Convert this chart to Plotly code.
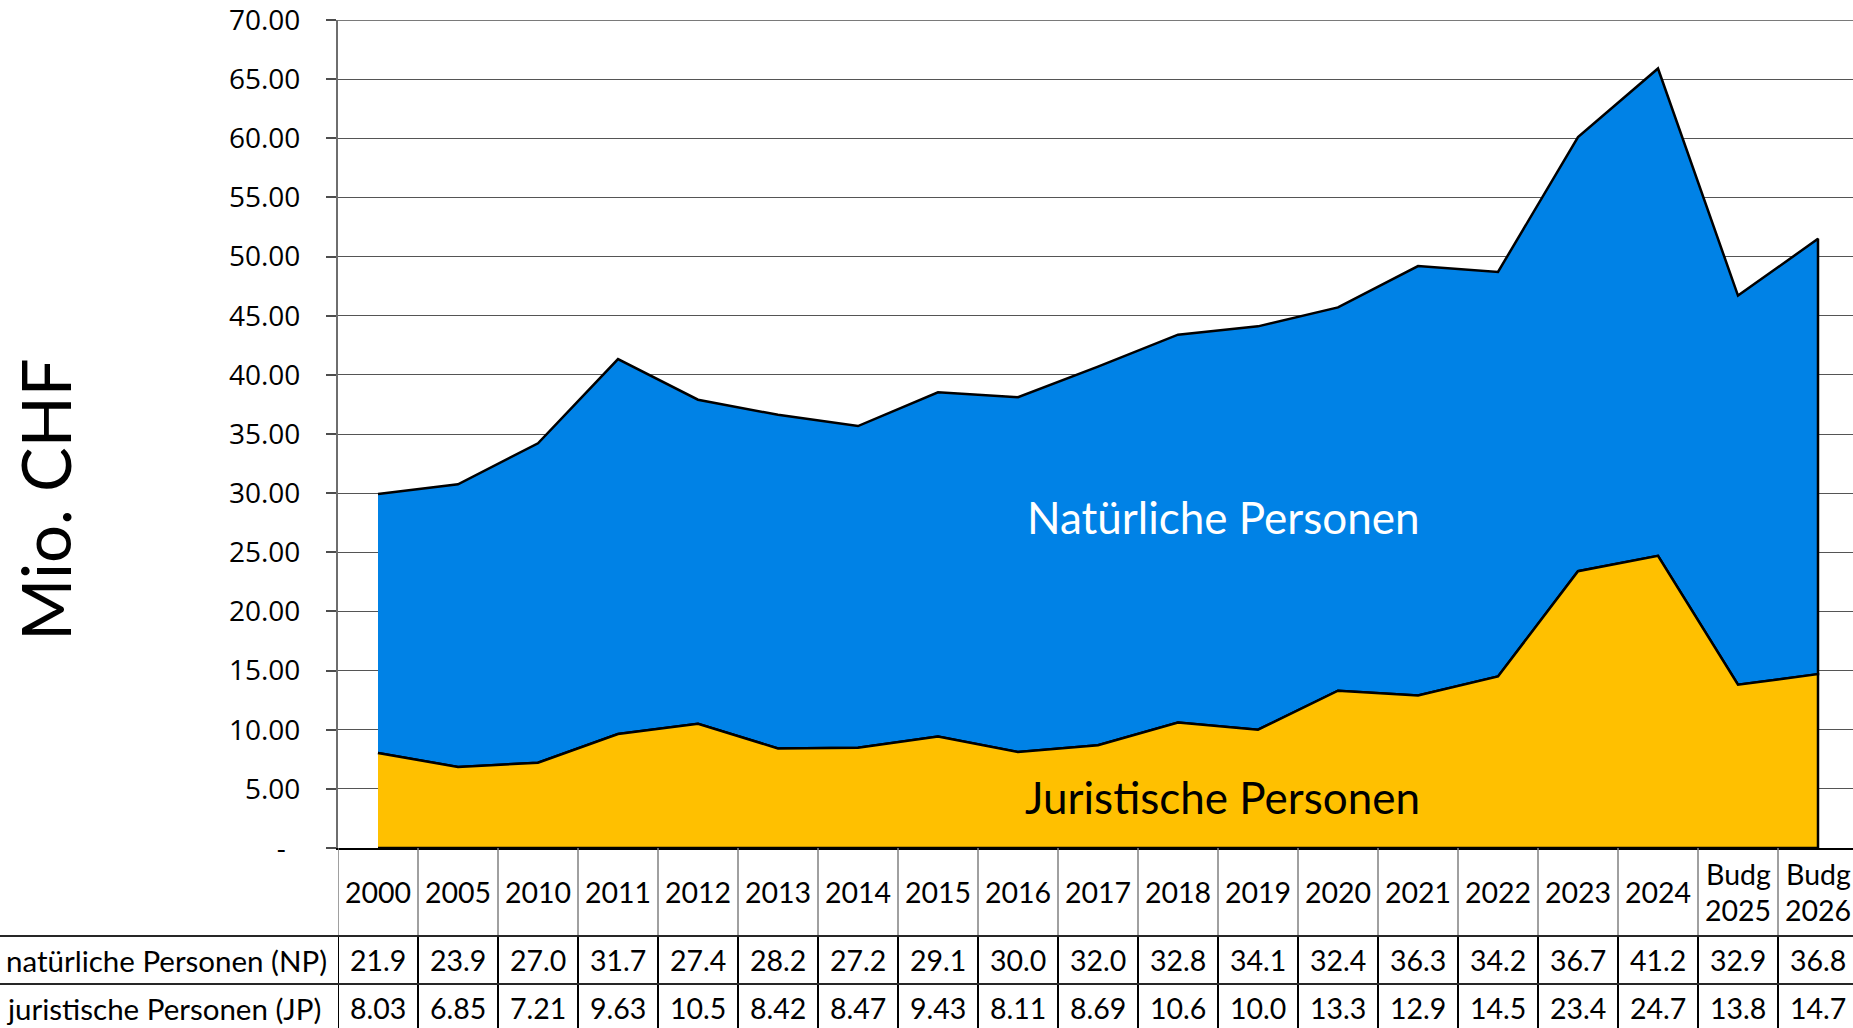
import plotly.graph_objects as go

# ---------------- data ----------------
categories = ["2000", "2005", "2010", "2011", "2012", "2013", "2014", "2015", "2016",
              "2017", "2018", "2019", "2020", "2021", "2022", "2023", "2024",
              "Budg 2025", "Budg 2026"]
np_values = [21.9, 23.9, 27.0, 31.7, 27.4, 28.2, 27.2, 29.1, 30.0, 32.0, 32.8, 34.1,
             32.4, 36.3, 34.2, 36.7, 41.2, 32.9, 36.8]
jp_values = [8.03, 6.85, 7.21, 9.63, 10.5, 8.42, 8.47, 9.43, 8.11, 8.69, 10.6, 10.0,
             13.3, 12.9, 14.5, 23.4, 24.7, 13.8, 14.7]
row_labels = ["natürliche Personen (NP)", "juristische Personen (JP)"]
y_tickvals = [0, 5, 10, 15, 20, 25, 30, 35, 40, 45, 50, 55, 60, 65, 70]
y_ticktext = ["-\u00a0\u00a0"] + [f"{v:.2f}" for v in y_tickvals[1:]]

# ---------------- layout constants ----------------
W, H = 1853, 1028
AX_LEFT = 338          # px, y-axis position
COL_W = 80             # px per category column
PLOT_TOP = 20          # px
PLOT_BOTTOM = 848      # px
ROW1 = 936             # px, line between header and NP row
ROW2 = 984             # px, line between NP and JP row

def py(p):  # pixel y -> paper y
    return (H - p) / H

BLUE = "#0082E6"
GOLD = "#FFC000"
TABLE_FONT = "Lato, Carlito, Calibri, sans-serif"
LABEL_FONT = "Lato, Carlito, Calibri, sans-serif"
TICK_FONT = "Open Sans, Noto Sans, sans-serif"
GRID = "#555555"

n = len(categories)
idx = list(range(n))
totals = [a + b for a, b in zip(np_values, jp_values)]

fig = go.Figure()
# NP area (stacked on top of JP)
fig.add_trace(go.Scatter(
    x=idx + idx[::-1], y=totals + jp_values[::-1],
    fill="toself", fillcolor=BLUE, mode="lines",
    line=dict(color="black", width=2.5), hoverinfo="skip", showlegend=False))
# JP area
fig.add_trace(go.Scatter(
    x=idx + idx[::-1], y=jp_values + [0] * n,
    fill="toself", fillcolor=GOLD, mode="lines",
    line=dict(color="black", width=2.5), hoverinfo="skip", showlegend=False))

x_range = [-0.5, -0.5 + (W - AX_LEFT) / COL_W]

fig.update_layout(
    width=W, height=H,
    margin=dict(l=0, r=0, t=0, b=0, pad=0, autoexpand=False),
    paper_bgcolor="white", plot_bgcolor="white",
    showlegend=False,
    xaxis=dict(domain=[AX_LEFT / W, 1], range=x_range, showgrid=False,
               showticklabels=False, zeroline=False, showline=True,
               linecolor="black", linewidth=2, ticks="", automargin=False,
               fixedrange=True),
    yaxis=dict(domain=[py(PLOT_BOTTOM), py(PLOT_TOP)], range=[0, 70],
               tickvals=y_tickvals, ticktext=y_ticktext,
               ticks="outside", ticklen=10, tickcolor="#4d4d4d", tickwidth=1.5,
               showgrid=True, gridcolor=GRID, gridwidth=1.4,
               showline=True, linecolor="#6e6e6e", linewidth=2.2, zeroline=False,
               tickfont=dict(family=TICK_FONT, size=28, color="black"),
               ticklabelstandoff=20, ticklabeloverflow="allow",
               automargin=False, fixedrange=True),
)

annotations = []
shapes = []

# top gridline at the axis maximum
shapes.append(dict(type="line", xref="paper", yref="y", x0=AX_LEFT / W, x1=1,
                   y0=y_tickvals[-1], y1=y_tickvals[-1], layer="below",
                   line=dict(color="#7a7a7a", width=2)))

# Y-axis title
annotations.append(dict(text="Mio. CHF", xref="paper", yref="paper",
                        x=45 / W, y=py(423 * 1028 / 870), textangle=-90, showarrow=False,
                        font=dict(family=LABEL_FONT, size=67, color="black"),
                        xanchor="center", yanchor="middle"))

# area labels
annotations.append(dict(text="Natürliche Personen", xref="x", yref="y",
                        x=10.57, y=28.0, showarrow=False,
                        font=dict(family=LABEL_FONT, size=44, color="white")))
annotations.append(dict(text="Juristische Personen", xref="x", yref="y",
                        x=10.56, y=4.3, showarrow=False,
                        font=dict(family=LABEL_FONT, size=44, color="black")))

def fmt(v):
    return f"{v:.1f}" if v >= 10 else f"{v:.2f}"

TFS = 28.5
LFS = 29.5
# header row
hdr_center = (PLOT_BOTTOM + ROW1) / 2
for i, c in enumerate(categories):
    parts = c.split(" ")
    for k, part in enumerate(parts):
        off = (k - (len(parts) - 1) / 2) * 36
        annotations.append(dict(text=part, xref="x", yref="paper", x=i,
                                y=py(hdr_center + off), showarrow=False,
                                font=dict(family=TABLE_FONT, size=TFS, color="black"),
                                xanchor="center", yanchor="middle"))

# value rows
row_centers = [(ROW1 + ROW2) / 2, ROW2 + 24]
for r, (label, vals) in enumerate(zip(row_labels, [np_values, jp_values])):
    annotations.append(dict(text=label, xref="paper", yref="paper", x=4 / W,
                            y=py(row_centers[r]), showarrow=False,
                            xanchor="left", yanchor="middle",
                            font=dict(family=TABLE_FONT, size=LFS, color="black")))
    for i, v in enumerate(vals):
        annotations.append(dict(text=fmt(v), xref="x", yref="paper", x=i,
                                y=py(row_centers[r]), showarrow=False,
                                xanchor="center", yanchor="middle",
                                font=dict(family=TABLE_FONT, size=TFS, color="black")))

# table lines
for k in range(n + 1):
    xb = k - 0.5
    shapes.append(dict(type="line", xref="x", yref="paper", x0=xb, x1=xb,
                       y0=py(PLOT_BOTTOM), y1=py(ROW1),
                       line=dict(color="#808080", width=1.5)))
    shapes.append(dict(type="line", xref="x", yref="paper", x0=xb, x1=xb,
                       y0=py(ROW1), y1=0, line=dict(color="black", width=2)))
for yy in (ROW1, ROW2):
    shapes.append(dict(type="line", xref="paper", yref="paper", x0=0, x1=1,
                       y0=py(yy), y1=py(yy), line=dict(color="#262626", width=2)))

fig.update_layout(annotations=annotations, shapes=shapes)
fig.write_html("out.html",
               config={"displayModeBar": False},
               post_script="document.body.style.margin='0';"
                           "document.body.style.overflow='hidden';")
